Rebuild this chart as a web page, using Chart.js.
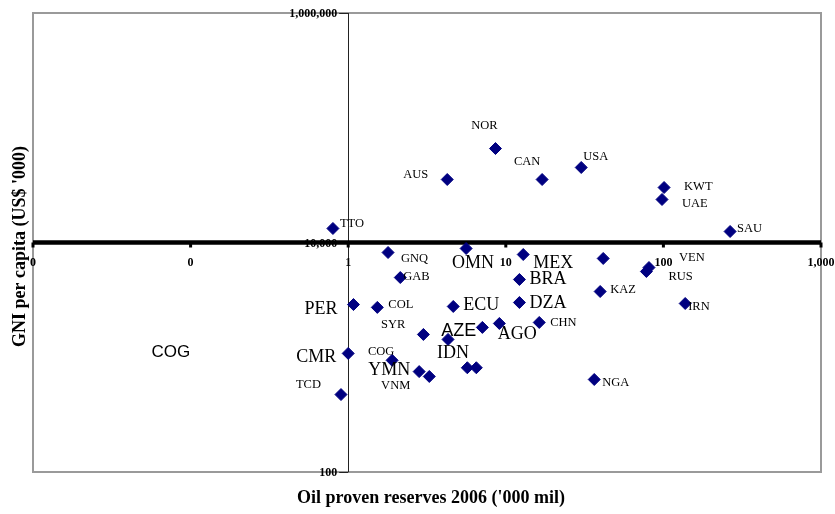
<!DOCTYPE html>
<html>
<head>
<meta charset="utf-8">
<script src="https://cdn.jsdelivr.net/npm/chart.js@4"></script>
<style>
  body { margin: 0; background: #fff; }
  #wrap { width: 835px; height: 514px; }
</style>
</head>
<body>
<div id="wrap"><canvas id="oilChart" width="835" height="514"></canvas></div>
<script>
// country codes, proven oil reserves 2006 ('000 mil) and GNI per capita
const codes = ['TTO','NOR','AUS','CAN','USA','KWT','UAE','SAU','GNQ','OMN','MEX','LBY','VEN','RUS','GAB','BRA','KAZ',
  'PER','COL','ECU','DZA','IRN','CHN','AGO','AZE','SYR','IDN','CMR','COG','YMN','VNM','IND','SDN','NGA','TCD'];
const reserves = [0.8, 8.6, 4.25, 17.0, 30.1, 101, 98, 265, 1.79, 5.6, 12.9, 41.5, 81, 78, 2.14, 12.2, 39.7,
  1.08, 1.53, 4.64, 12.2, 137.5, 16.3, 9.1, 7.1, 3.0, 4.3, 1.0, 1.9, 2.82, 3.27, 5.7, 6.5, 36.4, 0.9];
const gniPerCapita = [13250, 65900, 35400, 35400, 45050, 30150, 23700, 12470, 8180, 8870, 7860, 7260, 6050, 5590, 4950, 4760, 3740,
  2880, 2720, 2770, 3000, 2940, 2010, 1970, 1820, 1580, 1430, 1080, 940, 750, 680, 810, 810, 640, 473];

const xTickValues = [0.01, 0.1, 1, 10, 100, 1000];
const xTickLabels = ['0', '0', '1', '10', '100', '1,000'];
const yTickValues = [100, 10000, 1000000];
const yTickLabels = ['100', '10,000', '1,000,000'];

const xTitle = "Oil proven reserves 2006 ('000 mil)";
const yTitle = "GNI per capita (US$ '000)";

// free text box sitting in the empty left part of the plot
const noteText = 'COG';
const notePos = { x: 0.075, y: 1100 };

// where each label sits relative to its marker: [align, dx, dy, font]
const labelPlace = {
  TTO: ['left', 7, -5, 's'], NOR: ['center', -11, -23, 's'], AUS: ['right', -19, -5, 's'],
  CAN: ['center', -15, -18, 's'], USA: ['left', 2, -11, 's'], KWT: ['left', 20, -1, 's'],
  UAE: ['left', 20, 4, 's'], SAU: ['left', 7, -3, 's'], GNQ: ['left', 13, 6, 's'],
  OMN: ['center', 7, 15, 'b'], MEX: ['left', 10, 9, 'b'], VEN: ['left', 30, -10, 's'],
  RUS: ['left', 22, 5, 's'], GAB: ['left', 3, -1, 's'], BRA: ['left', 10, 0, 'b'],
  KAZ: ['left', 10, -2, 's'], PER: ['right', -16, 5, 'b'], COL: ['left', 11, -3, 's'],
  ECU: ['left', 10, -1, 'b'], DZA: ['left', 10, 1, 'b'], IRN: ['left', 3, 3, 's'],
  CHN: ['left', 11, 0, 's'], AGO: ['center', 18, 11, 'b'], AZE: ['right', -6, 4, 'a'],
  SYR: ['right', -18, -10, 's'], IDN: ['center', 5, 14, 'b'], CMR: ['right', -12, 4, 'b'],
  COG: ['center', -11, -9, 's'], YMN: ['right', -9, -1, 'b'], VNM: ['right', -19, 9, 's'],
  NGA: ['left', 8, 3, 's'], TCD: ['right', -20, -10, 's']
};
const labelFonts = {
  s: '12.5px "Liberation Serif", "Times New Roman", serif',
  b: '18px "Liberation Serif", "Times New Roman", serif',
  a: '18px "Liberation Sans", Arial, sans-serif'
};

const points = codes.map((c, i) => ({ x: reserves[i], y: gniPerCapita[i] }));

const crossAxes = {
  id: 'crossAxes',
  beforeDatasetsDraw(chart) {
    const ctx = chart.ctx;
    const a = chart.chartArea;
    const xs = chart.scales.x, ys = chart.scales.y;
    const x0 = xs.getPixelForValue(1);
    const y0 = ys.getPixelForValue(10000);
    ctx.save();

    // plot frame
    ctx.strokeStyle = '#9a9a9a';
    ctx.lineWidth = 2;
    ctx.strokeRect(a.left, a.top, a.right - a.left, a.bottom - a.top);

    // y axis at x = 1
    ctx.strokeStyle = '#222';
    ctx.lineWidth = 1;
    ctx.beginPath();
    ctx.moveTo(Math.round(x0) + 0.5, a.top);
    ctx.lineTo(Math.round(x0) + 0.5, a.bottom);
    ctx.stroke();

    ctx.font = 'bold 12px "Liberation Serif", "Times New Roman", serif';
    ctx.fillStyle = '#000';
    ctx.textAlign = 'right';
    ctx.textBaseline = 'middle';
    yTickValues.forEach((v, i) => {
      const py = ys.getPixelForValue(v);
      ctx.beginPath();
      ctx.moveTo(x0 - 9, Math.round(py) + 0.5);
      ctx.lineTo(x0, Math.round(py) + 0.5);
      ctx.stroke();
      ctx.fillText(yTickLabels[i], x0 - 11, py + 1);
    });

    // thick x axis at y = 10,000
    ctx.strokeStyle = '#000';
    ctx.lineWidth = 4.5;
    ctx.beginPath();
    ctx.moveTo(a.left, y0);
    ctx.lineTo(a.right, y0);
    ctx.stroke();

    ctx.textAlign = 'center';
    xTickValues.forEach((v, i) => {
      const px = xs.getPixelForValue(v);
      ctx.fillRect(px - 1.5, y0, 3, 5);
      ctx.fillText(xTickLabels[i], px, y0 + 20);
    });

    // axis titles
    ctx.font = 'bold 18px "Liberation Serif", "Times New Roman", serif';
    ctx.fillText(xTitle, (a.left + a.right) / 2 + 4, 498);
    ctx.save();
    ctx.translate(20, (a.top + a.bottom) / 2 + 4);
    ctx.rotate(-Math.PI / 2);
    ctx.fillText(yTitle, 0, 0);
    ctx.restore();

    ctx.restore();
  },
  afterDatasetsDraw(chart) {
    const ctx = chart.ctx;
    const meta = chart.getDatasetMeta(0);
    ctx.save();
    ctx.fillStyle = '#000';
    ctx.textBaseline = 'middle';
    meta.data.forEach((pt, i) => {
      const place = labelPlace[codes[i]];
      if (!place) return;
      ctx.font = labelFonts[place[3]];
      ctx.textAlign = place[0];
      ctx.fillText(codes[i], pt.x + place[1], pt.y + place[2]);
    });
    ctx.font = '17px "Liberation Sans", Arial, sans-serif';
    ctx.textAlign = 'center';
    ctx.fillText(noteText, chart.scales.x.getPixelForValue(notePos.x), chart.scales.y.getPixelForValue(notePos.y));
    ctx.restore();
  }
};

new Chart(document.getElementById('oilChart'), {
  type: 'scatter',
  data: {
    datasets: [{
      data: points,
      pointStyle: 'rectRot',
      pointRadius: 6,
      pointBorderWidth: 1,
      backgroundColor: '#000080',
      borderColor: '#000080'
    }]
  },
  options: {
    responsive: false,
    animation: false,
    layout: { padding: { left: 33, right: 14, top: 13, bottom: 42 } },
    scales: {
      x: { type: 'logarithmic', min: 0.01, max: 1000, display: false },
      y: { type: 'logarithmic', min: 100, max: 1000000, display: false }
    },
    plugins: {
      legend: { display: false },
      tooltip: { enabled: false }
    }
  },
  plugins: [crossAxes]
});
</script>
</body>
</html>
